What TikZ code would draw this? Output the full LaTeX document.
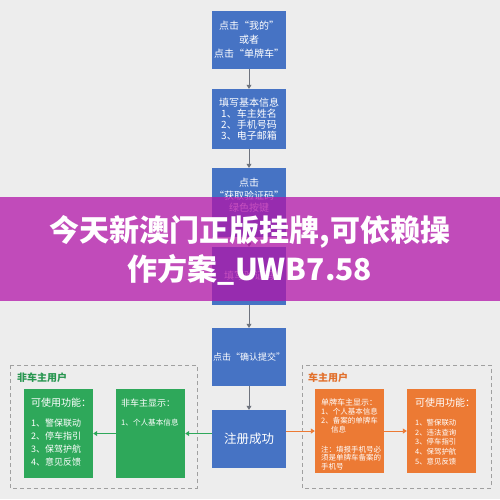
\documentclass[tikz,border=0pt]{standalone}
\usepackage{fontspec}
\setmainfont{Noto Sans CJK SC}
\usetikzlibrary{arrows.meta}
\definecolor{bgc}{RGB}{237,237,237}
\definecolor{bluec}{RGB}{70,115,196}
\definecolor{greenc}{RGB}{46,168,90}
\definecolor{greentitle}{RGB}{40,150,80}
\definecolor{orangec}{RGB}{236,122,52}
\definecolor{orangetitle}{RGB}{226,112,44}
\definecolor{bannerc}{RGB}{179,21,169}
\definecolor{linec}{RGB}{110,115,125}
\definecolor{dashc}{RGB}{160,160,160}
\newcommand{\fsz}[2]{\fontsize{#1}{#2}\selectfont}
\begin{document}
\begin{tikzpicture}[x=1pt,y=-1pt,
  box/.style={draw=none, inner sep=0pt},
  bluebox/.style={box, fill=bluec, text=white, align=center, minimum width=74pt},
  greenbox/.style={box, fill=greenc, minimum width=69pt, minimum height=89pt},
  orangebox/.style={box, fill=orangec, minimum width=69pt, minimum height=84pt},
  boxtext/.style={inner sep=0pt, text=white, align=left, anchor=north west},
  flow/.style={draw=linec, line width=0.8pt, -{Triangle[width=5pt,length=4pt]}},
  gflow/.style={draw=greenc, line width=0.9pt, -{Triangle[width=5pt,length=4pt]}},
  oflow/.style={draw=orangec, line width=0.9pt, -{Triangle[width=5pt,length=4pt]}},
  dashbox/.style={draw=dashc, line width=0.8pt, dash pattern=on 4pt off 3pt},
  grouptitle/.style={inner sep=0pt, anchor=west, font=\fsz{10}{12}\bfseries},
  bannertext/.style={inner sep=0pt, anchor=base, text=white, font=\fsz{30}{30}\bfseries}
]
\useasboundingbox (0,0) rectangle (500,499);
\fill[bgc] (0,0) rectangle (500,499);

% main column
\node[bluebox, minimum height=58pt, font=\fsz{10}{14}] (b1) at (249,40) {点击“我的”\\或者\\点击“单牌车”};
\node[bluebox, minimum height=60pt, font=\fsz{10}{11}] (b2) at (249,119) {填写基本信息\\1、车主姓名\\2、手机号码\\3、电子邮箱};
\node[bluebox, minimum height=69pt] (b3) at (249,202.5) {};
\node[inner sep=0pt, text=white, align=center, font=\fsz{10}{12.5}] (b3t) at (249,195.5) {点击\\“获取验证码”\\绿色按键};
\node[bluebox, minimum height=58pt, font=\fsz{10}{12}] (b4) at (249,276) {填写验证码};
\node[bluebox, minimum height=58pt, font=\fsz{9}{12}] (b5) at (249,357) {点击“确认提交”};
\node[bluebox, minimum height=58pt, font=\fsz{12.5}{14}] (b6) at (249,439) {注册成功};

\draw[flow] (b1) -- (b2);
\draw[flow] (b2) -- (b3);
\draw[flow] (b3) -- (b4);
\draw[flow] (b4) -- (b5);
\draw[flow] (b5) -- (b6);

% non-owner group
\draw[dashbox] (10,365) rectangle (197,488);
\node[grouptitle, text=greentitle] (gt) at (17,378) {非车主用户};
\node[greenbox] (g1) at (58.5,433.5) {};
\node[greenbox] (g2) at (150.5,433.5) {};
\node[boxtext, font=\fsz{9}{13}] (g1t) at (31,398) {\fsz{10}{13}可使用功能：\\[7pt]1、警保联动\\2、停车指引\\3、保驾护航\\4、意见反馈};
\node[boxtext, font=\fsz{7.6}{19}] (g2t) at (121,398.5) {\fsz{9}{19}非车主显示：\\1、个人基本信息};
\draw[gflow] (b6.west |- g2.east) -- (g2.east);
\draw[gflow] (g2.west) -- (g1.east);

% owner group
\draw[dashbox] (302,365) rectangle (491,488);
\node[grouptitle, text=orangetitle] (ot) at (308,378) {车主用户};
\node[orangebox] (o1) at (349.5,431) {};
\node[orangebox] (o2) at (441.5,431) {};
\node[boxtext, font=\fsz{7.5}{8.9}] (o1t) at (321,399) {\fsz{8}{8.9}单牌车主显示：\\1、个人基本信息\\2、备案的单牌车\\\hspace*{10pt}信息\\[10.5pt]注：填报手机号必\\须是单牌车备案的\\手机号};
\node[boxtext, font=\fsz{7.4}{9.6}] (o2t) at (415,398) {\fsz{10}{9.6}可使用功能：\\[9.5pt]1、警保联动\\2、违法查询\\3、停车指引\\4、保驾护航\\5、意见反馈};
\draw[oflow] (b6.east |- o1.west) -- (o1.west);
\draw[oflow] (o1.east) -- (o2.west);

% banner
\fill[bannerc, opacity=0.75] (0,197) rectangle (500,301);
\node[bannertext] (title1) at (250,241) {今天新澳门正版挂牌,可依赖操};
\node[bannertext] (title2) at (250,280) {作方案\_UWB7.58};
\end{tikzpicture}
\end{document}
